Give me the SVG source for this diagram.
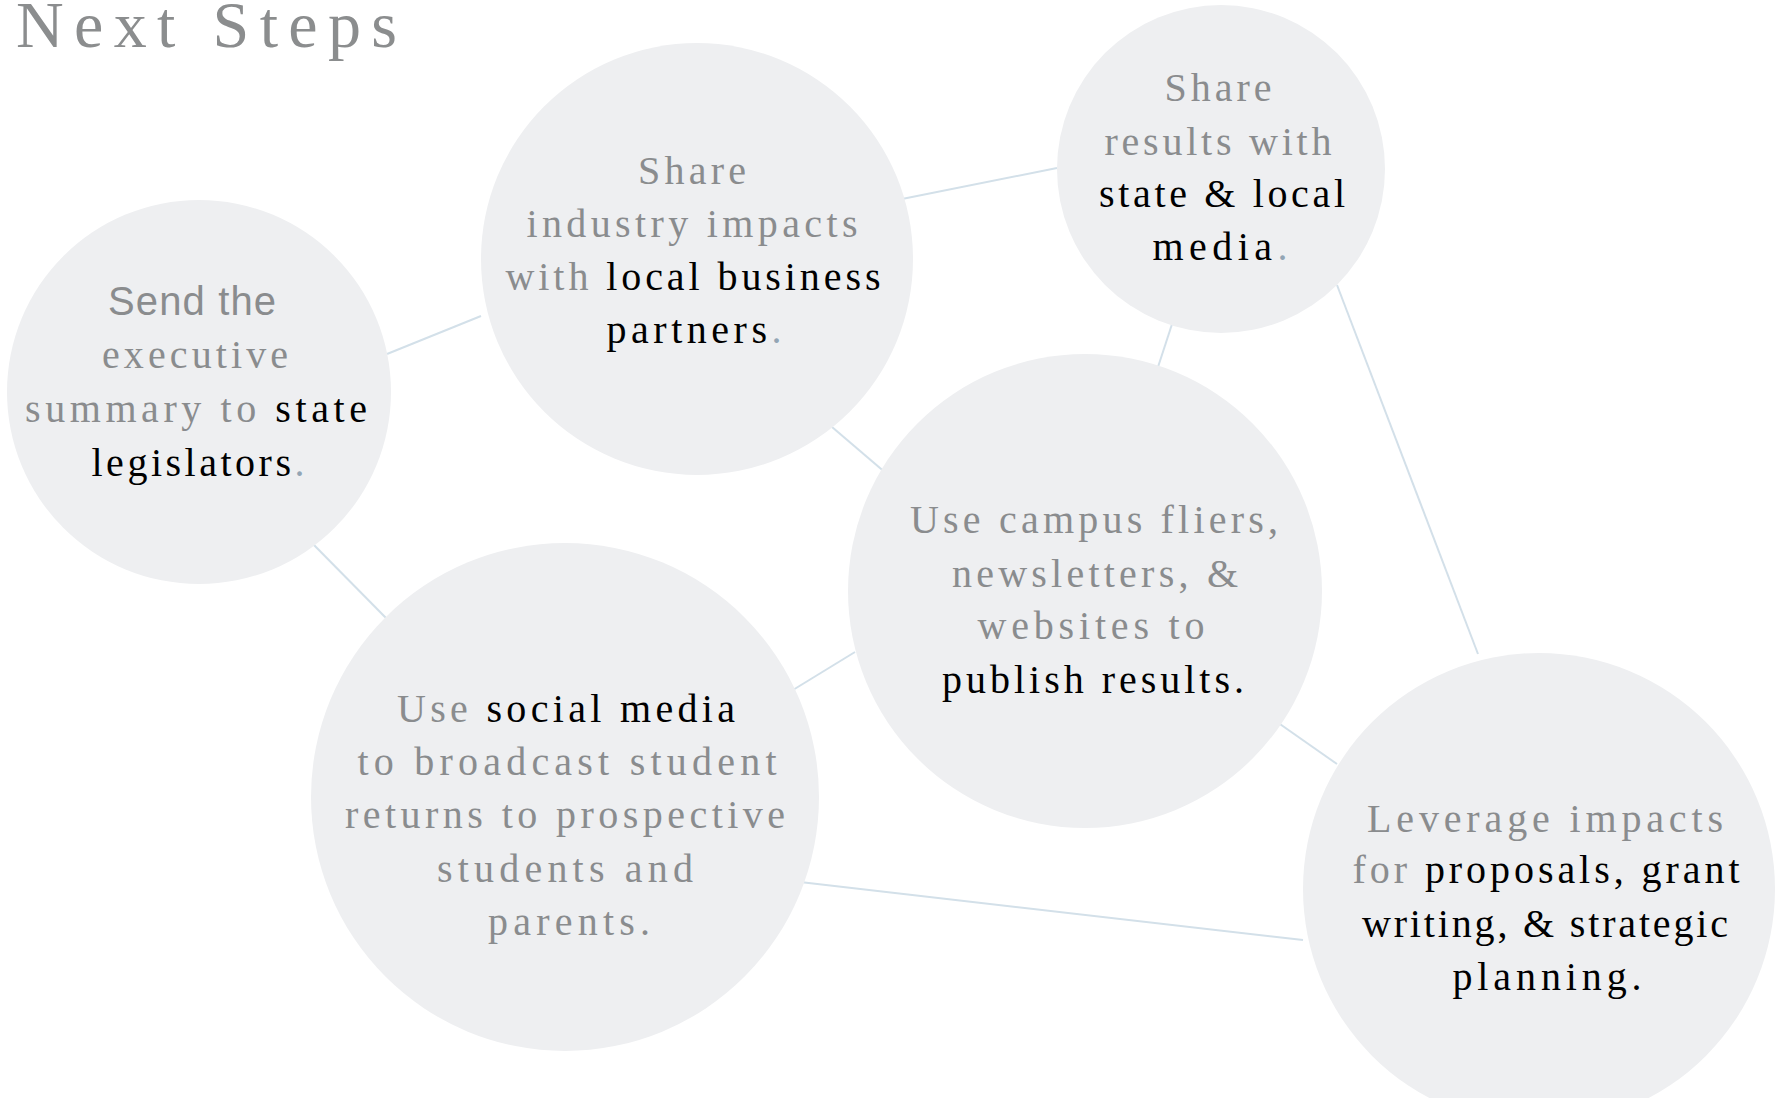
<svg xmlns="http://www.w3.org/2000/svg" width="1775" height="1098" viewBox="0 0 1775 1098">
<style>
.node{fill:#eeeff1}
.conn line{stroke:#d3e0e9;stroke-width:2}
text{font-family:"Liberation Serif","Times New Roman",serif;font-size:40px;text-anchor:middle;fill:#8a8c8e}
.b{fill:#000}
.d{fill:#93a5b5}
.sans{font-family:"Liberation Sans",Arial,sans-serif}
</style>
<rect width="1775" height="1098" fill="#fff"/>
<text x="16" y="47" style="font-size:66px;text-anchor:start;fill:#8b8d8e" textLength="381" lengthAdjust="spacing">Next Steps</text>
<g id="connectors" class="conn">
<line x1="387" y1="354" x2="481" y2="316"/>
<line x1="887" y1="202" x2="1057" y2="168"/>
<line x1="1175" y1="315" x2="1158" y2="367"/>
<line x1="1337" y1="285" x2="1478" y2="654"/>
<line x1="832" y1="427" x2="887" y2="474"/>
<line x1="311" y1="542" x2="386" y2="618"/>
<line x1="788" y1="693" x2="855" y2="652"/>
<line x1="1277" y1="722" x2="1337" y2="764"/>
<line x1="800" y1="882" x2="1303" y2="940"/>
</g>
<g id="node-legislators">
<circle class="node" cx="199" cy="392" r="192"/>
<text class="sans" x="192" y="315" textLength="168" lengthAdjust="spacing">Send the</text>
<text x="195" y="368" textLength="186" lengthAdjust="spacing">executive</text>
<text x="196" y="422" textLength="342" lengthAdjust="spacing">summary to <tspan class="b">state</tspan></text>
<text x="198" y="476" textLength="213" lengthAdjust="spacing"><tspan class="b">legislators</tspan><tspan class="d">.</tspan></text>
</g>
<g id="node-business">
<circle class="node" cx="697" cy="259" r="216"/>
<text x="692" y="184" textLength="108" lengthAdjust="spacing">Share</text>
<text x="692" y="237" textLength="331" lengthAdjust="spacing">industry impacts</text>
<text x="693" y="290" textLength="375" lengthAdjust="spacing">with <tspan class="b">local business</tspan></text>
<text x="694" y="343" textLength="175" lengthAdjust="spacing"><tspan class="b">partners</tspan><tspan class="d">.</tspan></text>
</g>
<g id="node-media">
<circle class="node" cx="1221" cy="169" r="164"/>
<text x="1218" y="101" textLength="107" lengthAdjust="spacing">Share</text>
<text x="1218" y="155" textLength="227" lengthAdjust="spacing">results with</text>
<text x="1222" y="207" textLength="246" lengthAdjust="spacing"><tspan class="b">state &amp; local</tspan></text>
<text x="1220" y="260" textLength="135" lengthAdjust="spacing"><tspan class="b">media</tspan><tspan class="d">.</tspan></text>
</g>
<g id="node-campus">
<circle class="node" cx="1085" cy="591" r="237"/>
<text x="1094" y="533" textLength="368" lengthAdjust="spacing">Use campus fliers,</text>
<text x="1095" y="587" textLength="286" lengthAdjust="spacing">newsletters, &amp;</text>
<text x="1091" y="639" textLength="227" lengthAdjust="spacing">websites to</text>
<text x="1093" y="693" textLength="302" lengthAdjust="spacing"><tspan class="b">publish results.</tspan></text>
</g>
<g id="node-social">
<circle class="node" cx="565" cy="797" r="254"/>
<text x="566" y="722" textLength="338" lengthAdjust="spacing">Use <tspan class="b">social media</tspan></text>
<text x="567" y="775" textLength="419" lengthAdjust="spacing">to broadcast student</text>
<text x="565" y="828" textLength="440" lengthAdjust="spacing">returns to prospective</text>
<text x="565" y="882" textLength="256" lengthAdjust="spacing">students and</text>
<text x="569" y="935" textLength="162" lengthAdjust="spacing">parents.</text>
</g>
<g id="node-leverage">
<circle class="node" cx="1539" cy="889" r="236"/>
<text x="1545" y="832" textLength="356" lengthAdjust="spacing">Leverage impacts</text>
<text x="1546" y="883" textLength="387" lengthAdjust="spacing">for <tspan class="b">proposals, grant</tspan></text>
<text x="1545" y="937" textLength="366" lengthAdjust="spacing"><tspan class="b">writing, &amp; strategic</tspan></text>
<text x="1547" y="990" textLength="189" lengthAdjust="spacing"><tspan class="b">planning.</tspan></text>
</g>
</svg>
